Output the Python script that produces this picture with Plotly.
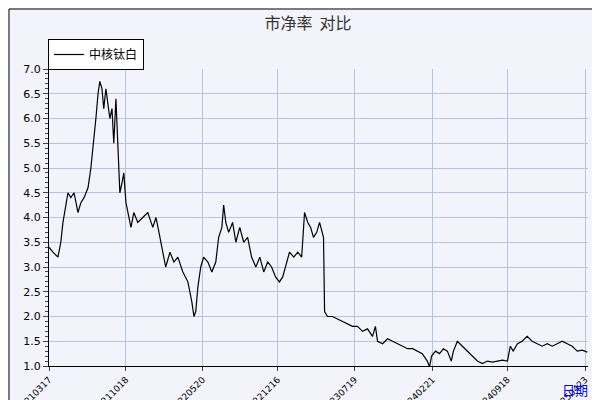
import plotly.graph_objects as go
import pandas as pd

start = "2021-03-17"
day_offsets = [0,11,25,33,39,47,53,61,70,81,
89,98,109,117,126,131,137,142,148,153,
159,165,170,176,181,187,193,198,204,209,
215,220,229,237,248,262,276,290,299,310,
318,326,338,349,360,374,388,399,405,410,
416,424,432,444,455,466,474,483,488,494,
502,513,522,533,544,555,566,578,589,600,
611,622,633,644,653,661,672,684,695,706,
714,723,731,739,748,756,762,767,770,778,
792,806,820,834,848,862,876,890,904,912,
918,932,946,960,974,988,1002,1016,1030,1043,
1057,1063,1069,1080,1091,1102,1113,1124,1130,1141,
1155,1169,1183,1197,1211,1225,1239,1253,1267,1281,
1289,1297,1309,1322,1336,1350,1364,1378,1392,1406,
1420,1434,1448,1462,1476,1490,1504]
pb = [3.4,3.3,3.2,3.5,3.9,4.2,4.5,4.4,4.5,4.1,
4.3,4.4,4.6,5.0,5.6,6.0,6.5,6.75,6.6,6.2,
6.6,6.3,6.0,6.2,5.5,6.4,5.2,4.5,4.7,4.9,
4.3,4.1,3.8,4.1,3.9,4.0,4.1,3.8,4.0,3.6,
3.3,3.0,3.3,3.1,3.2,2.9,2.7,2.3,2.0,2.1,
2.6,3.0,3.2,3.1,2.9,3.1,3.6,3.8,4.25,3.9,
3.7,3.9,3.5,3.8,3.5,3.6,3.2,3.0,3.2,2.9,
3.1,3.0,2.8,2.7,2.8,3.0,3.3,3.2,3.3,3.2,
4.1,3.9,3.8,3.6,3.7,3.9,3.7,3.6,2.1,2.0,
2.0,1.95,1.9,1.85,1.8,1.8,1.7,1.75,1.6,1.8,
1.5,1.45,1.55,1.5,1.45,1.4,1.35,1.35,1.3,1.25,
1.1,0.98,1.2,1.3,1.25,1.35,1.3,1.1,1.3,1.5,
1.4,1.3,1.2,1.1,1.05,1.1,1.08,1.1,1.12,1.1,
1.4,1.3,1.45,1.5,1.6,1.5,1.45,1.4,1.45,1.4,
1.45,1.5,1.45,1.4,1.3,1.32,1.28]
tick_labels = ["20210317","20211018","20220520","20221216","20230719","20240221","20240918","20250423"]
series_name = "中核钛白"

dates = pd.Timestamp(start) + pd.to_timedelta(day_offsets, unit="D")
tickvals = [pd.Timestamp(t) for t in tick_labels]

fig = go.Figure(go.Scatter(x=dates, y=pb, mode="lines", name=series_name,
                           line=dict(color="black", width=1.2)))
L, R, T, B = 41, 20, 61, 42
W, H = 600, 400
pw, ph = W - L - R, H - T - B
def px(x): return (x - L) / pw
def py(y): return (H - B - y) / ph

fig.update_layout(
    width=W, height=H, autosize=False, margin=dict(l=L, r=R, t=T, b=B, autoexpand=False),
    paper_bgcolor="#f3f4fb", plot_bgcolor="#dce1f6",
    font=dict(family="DejaVu Sans", size=11, color="black"),
    title=dict(text="市净率  对比", x=0.5, xanchor="center", y=0.975, yanchor="top",
               automargin=False,
               font=dict(family="Noto Sans CJK SC", size=16, color="#333")),
    showlegend=True,
    legend=dict(x=px(40), y=py(31), xanchor="left", yanchor="top",
                bgcolor="white", bordercolor="black", borderwidth=1, itemwidth=30,
                font=dict(family="Noto Sans CJK SC", size=12)),
    xaxis=dict(range=[dates[0], dates[-1] + pd.Timedelta(days=2)], tickvals=tickvals,
               ticktext=tick_labels, tickangle=-45, showgrid=True, gridcolor="#b8c2e8",
               showline=True, linecolor="black", ticks="outside", ticklen=4,
               automargin=False, tickfont=dict(size=9)),
    yaxis=dict(range=[1.0, 7.0], dtick=0.5, tickformat=".1f", showgrid=True,
               gridcolor="#b8c2e8", showline=True, linecolor="black", ticks="outside",
               ticklen=5, minor=dict(dtick=0.1, ticks="outside", ticklen=3),
               automargin=False, tickfont=dict(size=11)),
    shapes=[
        dict(type="rect", xref="paper", yref="paper", x0=px(5), x1=px(599), y0=py(399), y1=py(5),
             fillcolor="#777", line=dict(width=0), layer="below"),
        dict(type="rect", xref="paper", yref="paper", x0=px(1), x1=px(594), y0=py(394), y1=py(1),
             fillcolor="#f3f4fb", line=dict(color="black", width=1), layer="below"),
    ],
    annotations=[dict(text="日期", xref="paper", yref="paper", x=px(582), y=py(381),
                      xanchor="right", yanchor="middle", showarrow=False,
                      font=dict(family="Noto Sans CJK SC", size=13, color="blue"))],
)
fig.write_html("out.html")
